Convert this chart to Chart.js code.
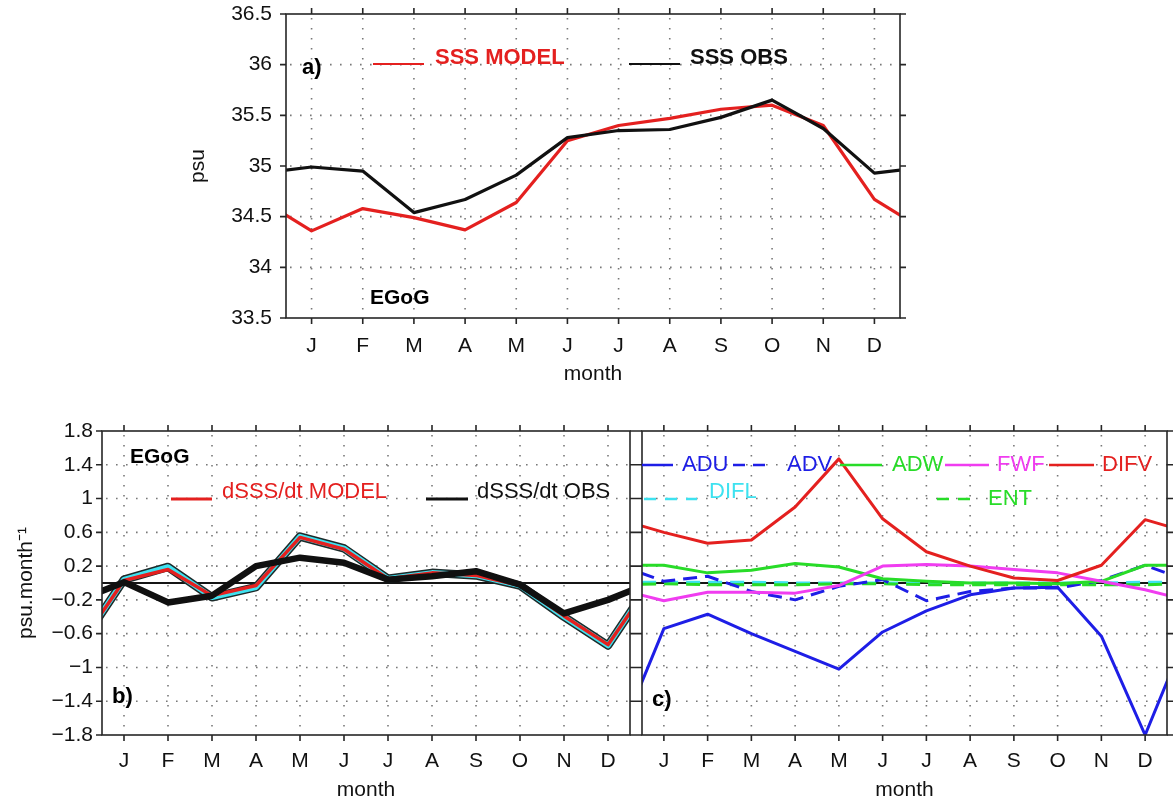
<!DOCTYPE html>
<html>
<head>
<meta charset="utf-8">
<script src="https://cdn.jsdelivr.net/npm/chart.js@4"></script>
<style>
  html, body { margin: 0; padding: 0; background: #fff; }
  #wrap { position: relative; width: 1173px; height: 804px; overflow: hidden; background: #fff; }
  canvas { position: absolute; }
</style>
</head>
<body>
<div id="wrap">
  <canvas id="pa" width="1173" height="420" style="left:0;top:-20px;width:1173px;height:420px"></canvas>
  <canvas id="pb" width="636" height="404" style="left:0;top:400px;width:636px;height:404px"></canvas>
  <canvas id="pc" width="537" height="404" style="left:636px;top:400px;width:537px;height:404px"></canvas>
</div>
<script>
// ---- data: monthly climatology, East Gulf of Guinea box ----
const months = ['J', 'F', 'M', 'A', 'M', 'J', 'J', 'A', 'S', 'O', 'N', 'D'];

// a) sea surface salinity (psu)
const sssModel = [34.36, 34.58, 34.49, 34.37, 34.64, 35.25, 35.40, 35.47, 35.56, 35.60, 35.40, 34.67];
const sssObs   = [34.99, 34.95, 34.54, 34.67, 34.91, 35.28, 35.35, 35.36, 35.48, 35.65, 35.37, 34.93];
const sssTicks = [33.5, 34, 34.5, 35, 35.5, 36, 36.5];

// b) salinity tendency (psu/month)
const dsdtModel = [0.03, 0.16, -0.15, -0.03, 0.54, 0.40, 0.05, 0.12, 0.09, -0.03, -0.39, -0.73];
const dsdtSum   = [0.04, 0.19, -0.17, -0.05, 0.55, 0.41, 0.05, 0.12, 0.09, -0.03, -0.40, -0.74];
const dsdtObs   = [0.01, -0.23, -0.15, 0.20, 0.30, 0.24, 0.04, 0.08, 0.14, -0.02, -0.36, -0.20];
const tendTicks = [-1.8, -1.4, -1, -0.6, -0.2, 0.2, 0.6, 1, 1.4, 1.8];

// c) mixed-layer salt budget terms (psu/month)
const adu  = [-0.54, -0.37, -0.60, -0.81, -1.02, -0.58, -0.33, -0.14, -0.06, -0.05, -0.63, -1.80];
const adv  = [0.02, 0.08, -0.10, -0.20, -0.04, 0.04, -0.21, -0.10, -0.06, -0.06, 0.03, 0.21];
const adw  = [0.21, 0.12, 0.15, 0.23, 0.19, 0.05, 0.02, 0.00, 0.00, -0.01, 0.02, 0.21];
const fwf  = [-0.21, -0.11, -0.11, -0.12, -0.03, 0.20, 0.22, 0.20, 0.16, 0.12, 0.02, -0.08];
const difv = [0.60, 0.47, 0.51, 0.90, 1.47, 0.76, 0.37, 0.20, 0.06, 0.03, 0.21, 0.75];
const difl = [0.01, 0.01, 0.01, 0.00, 0.00, 0.00, 0.00, 0.00, 0.00, 0.00, 0.00, 0.01];
const ent  = [-0.01, -0.02, -0.02, -0.02, -0.01, -0.01, -0.02, -0.02, -0.02, -0.02, -0.02, -0.02];

// ---- styling ----
const FONT = '"Liberation Sans", Arial, Helvetica, sans-serif';
const RED = '#e4201f', BLUE = '#1e1ee6', GREEN = '#28dc28', MAGENTA = '#f03cf0', CYAN = '#3ee2f0';

// An annual cycle: previous December before January and next January after
// December, so the curve runs from edge to edge of the 0.5..12.5 month axis.
function cycle(vals) {
  const pts = vals.map((v, i) => ({ x: i + 1, y: v }));
  return [{ x: 0, y: vals[vals.length - 1] }, ...pts, { x: 13, y: vals[0] }];
}

function series(vals, color, width, order, dash) {
  return {
    data: cycle(vals), borderColor: color, borderWidth: width, borderDash: dash || [],
    pointRadius: 0, tension: 0, fill: false, clip: 0, order: order,
    borderJoinStyle: 'round', borderCapStyle: 'butt'
  };
}

function monthAxis(labelPad, height, titlePad) {
  return {
    type: 'linear', min: 0.5, max: 12.5,
    afterBuildTicks: s => { s.ticks = months.map((m, i) => ({ value: i + 1 })); },
    ticks: {
      callback: v => months[v - 1] || '', autoSkip: false, maxRotation: 0,
      font: { family: FONT, size: 21 }, color: '#111', padding: labelPad
    },
    grid: { display: false, drawTicks: false },
    border: { display: false },
    title: { display: true, text: 'month', font: { family: FONT, size: 21 }, color: '#111',
             padding: { top: 0, bottom: titlePad } },
    afterFit: s => { s.height = height; }
  };
}

function valueAxis(tickVals, fmt, labelPad, width, title, titlePad, showLabels) {
  return {
    type: 'linear', min: tickVals[0], max: tickVals[tickVals.length - 1],
    afterBuildTicks: s => { s.ticks = tickVals.map(v => ({ value: v })); },
    ticks: { display: showLabels, callback: fmt, font: { family: FONT, size: 21 }, color: '#111', padding: labelPad },
    grid: { display: false, drawTicks: false },
    border: { display: false },
    title: { display: !!title, text: title || '', font: { family: FONT, size: 21 }, color: '#111',
             padding: { top: titlePad, bottom: 0 } },
    afterFit: s => { s.width = width; }
  };
}

// Dotted grid, zero line, boxed frame with outward ticks, and in-plot legend text.
const panelDecor = {
  id: 'panelDecor',
  beforeDatasetsDraw(chart, args, o) {
    const { ctx, chartArea: a, scales: { x, y } } = chart;
    ctx.save();
    ctx.strokeStyle = 'rgba(105,105,105,0.9)';
    ctx.lineWidth = 1.6;
    ctx.setLineDash([1.6, 8.4]);
    ctx.beginPath();
    x.ticks.forEach(t => {
      const px = x.getPixelForValue(t.value);
      ctx.moveTo(px, a.top + 4); ctx.lineTo(px, a.bottom);
    });
    y.ticks.forEach(t => {
      if (t.value === y.min || t.value === y.max) return;
      const py = y.getPixelForValue(t.value);
      ctx.moveTo(a.left + 4, py); ctx.lineTo(a.right, py);
    });
    ctx.stroke();
    ctx.setLineDash([]);
    if (o.zero) {
      const py = y.getPixelForValue(0);
      ctx.strokeStyle = '#151515';
      ctx.lineWidth = 2;
      ctx.beginPath(); ctx.moveTo(a.left, py); ctx.lineTo(a.right, py); ctx.stroke();
    }
    ctx.restore();
  },
  afterDatasetsDraw(chart, args, o) {
    const { ctx, chartArea: a, scales: { x, y } } = chart;
    const L = 6;
    ctx.save();
    ctx.strokeStyle = '#262626';
    ctx.lineWidth = 1.6;
    ctx.strokeRect(a.left, a.top, a.right - a.left, a.bottom - a.top);
    ctx.beginPath();
    x.ticks.forEach(t => {
      const px = x.getPixelForValue(t.value);
      ctx.moveTo(px, a.bottom); ctx.lineTo(px, a.bottom + L);
      ctx.moveTo(px, a.top); ctx.lineTo(px, a.top - L);
    });
    y.ticks.forEach(t => {
      const py = y.getPixelForValue(t.value);
      ctx.moveTo(a.left, py); ctx.lineTo(a.left - L, py);
      ctx.moveTo(a.right, py); ctx.lineTo(a.right + L, py);
    });
    ctx.stroke();

    // legend entries are given in page coordinates
    const dx = chart.canvas.offsetLeft, dy = chart.canvas.offsetTop;
    (o.items || []).forEach(it => {
      if (it.kind === 'line') {
        ctx.strokeStyle = it.color;
        ctx.lineWidth = it.width || 2.5;
        ctx.setLineDash(it.dash || []);
        ctx.beginPath(); ctx.moveTo(it.x1 - dx, it.y - dy); ctx.lineTo(it.x2 - dx, it.y - dy); ctx.stroke();
        ctx.setLineDash([]);
      } else {
        ctx.fillStyle = it.color || '#000';
        ctx.font = (it.bold ? 'bold ' : '') + (it.size || 22) + 'px ' + FONT;
        ctx.textAlign = 'left';
        ctx.textBaseline = 'middle';
        ctx.fillText(it.text, it.x - dx, it.y - dy);
      }
    });
    ctx.restore();
  }
};

const baseOpts = {
  responsive: false, animation: false, devicePixelRatio: 1,
  events: []
};

const fmtPlain = v => String(v);
const fmtSigned = v => (v < 0 ? '\u2212' : '') + String(Math.abs(v));

// ---- a) SSS ----
new Chart(document.getElementById('pa'), {
  type: 'line',
  data: { datasets: [
    series(sssObs, '#111111', 3.2, 1),
    series(sssModel, RED, 3.2, 2)
  ] },
  options: Object.assign({}, baseOpts, {
    layout: { padding: { left: 180, right: 273, top: 34, bottom: 10 } },
    scales: {
      x: monthAxis(16, 72, 3),
      y: valueAxis(sssTicks, fmtPlain, 14, 106, 'psu', 6, true)
    },
    plugins: {
      legend: { display: false }, tooltip: { enabled: false },
      panelDecor: { zero: false, items: [
        { kind: 'text', text: 'a)', x: 302, y: 68, bold: true },
        { kind: 'line', x1: 373, x2: 424, y: 64, color: RED, width: 2 },
        { kind: 'text', text: 'SSS MODEL', x: 435, y: 58, bold: true, color: RED },
        { kind: 'line', x1: 629, x2: 680, y: 64, color: '#111', width: 2 },
        { kind: 'text', text: 'SSS OBS', x: 690, y: 58, bold: true, color: '#111' },
        { kind: 'text', text: 'EGoG', x: 370, y: 298, bold: true, size: 21 }
      ] }
    }
  }),
  plugins: [panelDecor]
});

// ---- b) dSSS/dt ----
new Chart(document.getElementById('pb'), {
  type: 'line',
  data: { datasets: [
    series(dsdtObs, '#101010', 6.5, 1),
    series(dsdtModel, RED, 3.5, 2),
    series(dsdtSum, CYAN, 5.5, 3),
    series(dsdtSum, '#1c2a2a', 8.5, 4)
  ] },
  options: Object.assign({}, baseOpts, {
    layout: { padding: { left: 0, right: 6, top: 31, bottom: 0 } },
    scales: {
      x: monthAxis(14, 69, 1.4),
      y: valueAxis(tendTicks, fmtSigned, 9, 102, 'psu.month\u207B\u00B9', 13.4, true)
    },
    plugins: {
      legend: { display: false }, tooltip: { enabled: false },
      panelDecor: { zero: true, items: [
        { kind: 'text', text: 'EGoG', x: 130, y: 457, bold: true, size: 21 },
        { kind: 'line', x1: 171, x2: 212, y: 499, color: RED, width: 3 },
        { kind: 'text', text: 'dSSS/dt MODEL', x: 222, y: 492, color: RED },
        { kind: 'line', x1: 426, x2: 468, y: 499, color: '#111', width: 3 },
        { kind: 'text', text: 'dSSS/dt OBS', x: 477, y: 492, color: '#111' },
        { kind: 'text', text: 'b)', x: 112, y: 697, bold: true }
      ] }
    }
  }),
  plugins: [panelDecor]
});

// ---- c) budget terms ----
new Chart(document.getElementById('pc'), {
  type: 'line',
  data: { datasets: [
    series(difv, RED, 3, 1),
    series(adu, BLUE, 3, 2),
    series(fwf, MAGENTA, 3, 3),
    series(adw, GREEN, 3, 4),
    series(adv, BLUE, 3, 5, [14, 8]),
    series(ent, GREEN, 3, 6, [14, 8]),
    series(difl, CYAN, 3, 7, [14, 8])
  ] },
  options: Object.assign({}, baseOpts, {
    layout: { padding: { left: 6, right: 6, top: 31, bottom: 0 } },
    scales: {
      x: monthAxis(14, 69, 1.4),
      y: valueAxis(tendTicks, fmtSigned, 0, 0, '', 0, false)
    },
    plugins: {
      legend: { display: false }, tooltip: { enabled: false },
      panelDecor: { zero: true, items: [
        { kind: 'line', x1: 642, x2: 673, y: 465, color: BLUE, width: 2.5 },
        { kind: 'text', text: 'ADU', x: 682, y: 465, color: BLUE },
        { kind: 'line', x1: 733, x2: 771, y: 465, color: BLUE, width: 2.5, dash: [12, 8] },
        { kind: 'text', text: 'ADV', x: 787, y: 465, color: BLUE },
        { kind: 'line', x1: 840, x2: 882, y: 465, color: GREEN, width: 2.5 },
        { kind: 'text', text: 'ADW', x: 892, y: 465, color: GREEN },
        { kind: 'line', x1: 945, x2: 989, y: 465, color: MAGENTA, width: 2.5 },
        { kind: 'text', text: 'FWF', x: 997, y: 465, color: MAGENTA },
        { kind: 'line', x1: 1049, x2: 1094, y: 465, color: RED, width: 2.5 },
        { kind: 'text', text: 'DIFV', x: 1102, y: 465, color: RED },
        { kind: 'line', x1: 644, x2: 697, y: 499, color: CYAN, width: 2.5, dash: [12, 9] },
        { kind: 'text', text: 'DIFL', x: 709, y: 492, color: CYAN },
        { kind: 'line', x1: 937, x2: 976, y: 499, color: GREEN, width: 2.5, dash: [12, 9] },
        { kind: 'text', text: 'ENT', x: 988, y: 499, color: GREEN },
        { kind: 'text', text: 'c)', x: 652, y: 700, bold: true }
      ] }
    }
  }),
  plugins: [panelDecor]
});
</script>
</body>
</html>
